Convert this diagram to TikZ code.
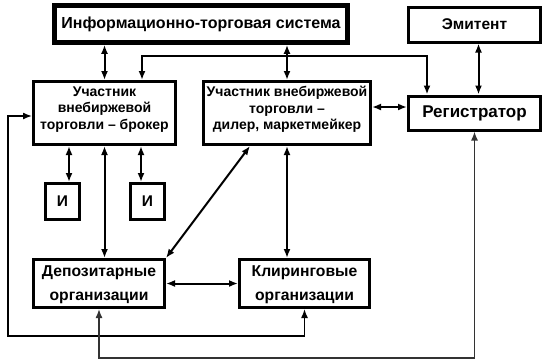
\documentclass[tikz,border=0pt]{standalone}
\usepackage{fontspec}
\setmainfont{Liberation Sans}
\usetikzlibrary{arrows.meta, positioning}

\begin{document}
\begin{tikzpicture}[
    x=1pt, y=-1pt,
    node distance=25pt,
    every node/.style={
            rectangle,
            draw,
            line width=3pt,
            align=center,
            inner sep=0pt
        },
    link/.style={{Latex[length=9pt, width=7pt]}-{Latex[length=9pt, width=7pt]}, line width=2pt},
    loop_link/.style={link, line width=1.4pt},
    system_block/.style={
            line width=3.6pt,
            minimum width=294,
            minimum height=38,
            font=\bfseries\fontsize{16pt}{18pt}\selectfont
        },
    big_block/.style={
            minimum width=132,
            minimum height=34,
            font=\bfseries\fontsize{15.5pt}{18pt}\selectfont
        },
    part_block/.style={
            minimum width=142,
            minimum height=63,
            text depth=10pt,
            font=\bfseries\fontsize{14pt}{16.5pt}\selectfont
        },
    org_block/.style={
            minimum width=131,
            minimum height=48,
            text depth=0pt,
            font=\bfseries\fontsize{15.7pt}{24pt}\selectfont
        },
    inv_block/.style={
            minimum width=34,
            minimum height=36,
            font=\bfseries\fontsize{15.5pt}{18pt}\selectfont
        }
    ]

    \useasboundingbox (0,0) rectangle (551,360);

    % --- Top row ---
    \node[system_block] (its) at (201,24) {Информационно-торговая система};
    \draw[line width=1pt] ([shift={(4pt,-4pt)}]its.north west) rectangle ([shift={(-4pt,4pt)}]its.south east);

    % --- Participants ---
    \node[part_block] (broker) at (104.5,113) {Участник\\внебиржевой\\торговли – брокер};
    \node[part_block, minimum width=167, right=of broker] (dealer) {Участник внебиржевой\\торговли –\\дилер, маркетмейкер};
    \node[big_block, font=\bfseries\fontsize{17pt}{18pt}\selectfont, right=35pt of dealer] (registrar) {Регистратор};
    \node[big_block, minimum height=35, above=51pt of registrar] (emitent) {Эмитент};

    % --- Investors ---
    \node[inv_block] (inv_a) at (62.5,201.5) {И};
    \node[inv_block, right=48pt of inv_a] (inv_b) {И};

    % --- Organisations ---
    \node[org_block] (depository) at (99,283.5) {Депозитарные\\организации};
    \node[org_block, minimum width=130, right=72pt of depository] (clearing) {Клиринговые\\организации};

    % --- Route points ---
    \coordinate (top_l) at (142,56);
    \coordinate (top_r) at (427,56);
    \coordinate (left_b) at (8,336);
    \coordinate (bottom) at (0,358);

    % --- Arrows ---
    \draw[link] (its.south -| broker.north) -- (broker.north);
    \draw[link] (its.south -| dealer.north) -- (dealer.north);
    \draw[link] (broker.north -| top_l) -- (top_l) -- (top_r) -- (registrar.north -| top_r);
    \draw[link] ([xshift=4pt]emitent.south) -- ([xshift=4pt]registrar.north);
    \draw[link] ([yshift=6pt]dealer.east) -- ([yshift=6pt]registrar.west);
    \draw[link] ([xshift=6.5pt]broker.south -| inv_a.north) -- ([xshift=6.5pt]inv_a.north);
    \draw[link] ([xshift=-6.5pt]broker.south -| inv_b.north) -- ([xshift=-6.5pt]inv_b.north);
    \draw[link] (broker.south) -- (broker.south |- depository.north);
    \draw[link] ([xshift=-37pt]dealer.south) -- (depository.north east);
    \draw[link] (dealer.south) -- (dealer.south |- clearing.north);
    \draw[link] (depository.east) -- (clearing.west);

    % --- Outer loops ---
    \draw[loop_link] (clearing.south) |- (left_b) |- ([yshift=-3pt]broker.west);
    \draw[loop_link, draw=black!80] (depository.south) |- (bottom -| registrar.south) -- (registrar.south);

\end{tikzpicture}
\end{document}
